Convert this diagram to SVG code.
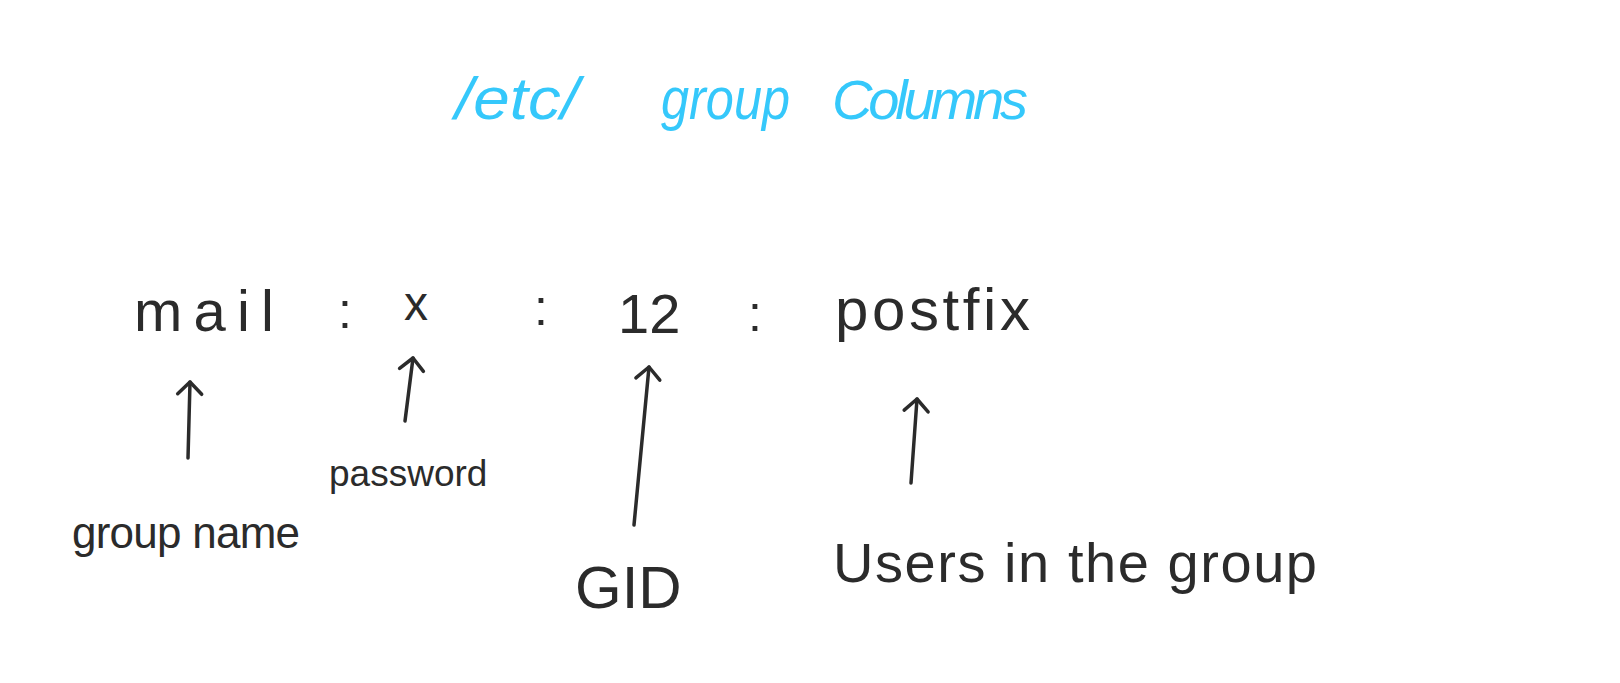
<svg xmlns="http://www.w3.org/2000/svg" width="1620" height="683" viewBox="0 0 1620 683">
<style>
.ink{font-family:"Liberation Sans","DejaVu Sans",sans-serif;fill:#2b2b2b;font-weight:normal}
.title{font-family:"Liberation Sans","DejaVu Sans",sans-serif;fill:#35c8fb;font-style:italic}
.arrow{fill:none;stroke:#2b2b2b;stroke-width:3.5;stroke-linecap:round;marker-end:url(#head)}
</style>
<defs>
<marker id="head" markerUnits="userSpaceOnUse" markerWidth="40" markerHeight="40" refX="20" refY="20" orient="auto">
<path d="M8,8 L20,20 L8,32" fill="none" stroke="#2b2b2b" stroke-width="3.5" stroke-linecap="round" stroke-linejoin="round"/>
</marker>
</defs>
<rect width="1620" height="683" fill="#ffffff"/>
<g id="title">
<text class="title" x="455" y="119" font-size="60" textLength="124" lengthAdjust="spacingAndGlyphs">/etc/</text>
<text class="title" x="661" y="119" font-size="60" textLength="129" lengthAdjust="spacingAndGlyphs">group</text>
<text class="title" x="832" y="119" font-size="56" textLength="196" lengthAdjust="spacing">Columns</text>
</g>
<g id="row">
<text class="ink" x="134" y="331" font-size="58" textLength="140" lengthAdjust="spacing">mail</text>
<text class="ink" x="338" y="328" font-size="50">:</text>
<text class="ink" x="404" y="320" font-size="48">x</text>
<text class="ink" x="534" y="325" font-size="50">:</text>
<text class="ink" x="618" y="333" font-size="56">12</text>
<text class="ink" x="748" y="331" font-size="50">:</text>
<text class="ink" x="835" y="330" font-size="60" textLength="195" lengthAdjust="spacing">postfix</text>
</g>
<g id="connectors">
<path class="arrow" d="M188,458 L190,382"/>
<path class="arrow" d="M405,421 L413,358"/>
<path class="arrow" d="M634,525 L649,367"/>
<path class="arrow" d="M911,483 L917,399"/>
</g>
<g id="label-groupname">
<text class="ink" x="72" y="548" font-size="44" textLength="228" lengthAdjust="spacing">group name</text>
</g>
<g id="label-password">
<text class="ink" x="329" y="486" font-size="37">password</text>
</g>
<g id="label-gid">
<text class="ink" x="575" y="608" font-size="60">GID</text>
</g>
<g id="label-users">
<text class="ink" x="833" y="582" font-size="56" textLength="484" lengthAdjust="spacing">Users in the group</text>
</g>
</svg>
